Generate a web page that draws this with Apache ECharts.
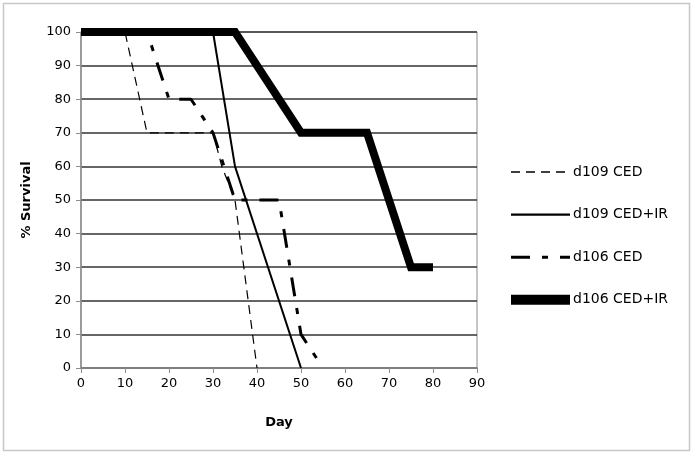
<!DOCTYPE html>
<html>
<head>
<meta charset="utf-8">
<script src="https://cdn.jsdelivr.net/npm/echarts@6/dist/echarts.min.js"></script>
<style>
html,body{margin:0;padding:0;background:#fff;}
#chart{width:694px;height:454px;}
</style>
</head>
<body>
<div id="chart"></div>
<script>
// Data
var seriesNames = ['d109 CED', 'd109 CED+IR', 'd106 CED', 'd106 CED+IR'];
var d109CED_days    = [0, 10, 15, 30, 32, 35, 40];
var d109CED_surv    = [100, 100, 70, 70, 60, 50, 0];
var d109CEDIR_days  = [0, 30, 35, 50];
var d109CEDIR_surv  = [100, 100, 60, 0];
var d106CED_days    = [0, 15, 20, 25, 30, 35, 45, 50, 55];
var d106CED_surv    = [100, 100, 80, 80, 70, 50, 50, 10, 0];
var d106CEDIR_days  = [0, 35, 50, 65, 75, 80];
var d106CEDIR_surv  = [100, 100, 70, 70, 30, 30];
var xTicks = {min: 0, max: 90, interval: 10};
var yTicks = {min: 0, max: 100, interval: 10};

function pairs(xs, ys) { return xs.map(function (x, i) { return [x, ys[i]]; }); }

var FONT = 'DejaVu Sans';
var styles = [
  {color: '#000', width: 1.2, type: [9, 6]},
  {color: '#000', width: 2, type: 'solid'},
  {color: '#000', width: 3, type: [19, 12, 6, 12]},
  {color: '#000', width: 8, type: 'solid', join: 'miter'}
];
var legendWidths = [1.4, 2.2, 3, 10];

var chart = echarts.init(document.getElementById('chart'), null, {renderer: 'canvas'});
chart.setOption({
  animation: false,
  backgroundColor: '#fff',
  textStyle: {fontFamily: FONT, color: '#000'},
  graphic: [{
    type: 'rect',
    shape: {x: 3.5, y: 3.5, width: 686, height: 447},
    style: {fill: 'none', stroke: '#c8c8c8', lineWidth: 1.5},
    silent: true, z: -10
  }],
  grid: {left: 81, top: 32, width: 396, height: 336, show: true,
         borderColor: '#8c8c8c', borderWidth: 1, backgroundColor: 'transparent'},
  legend: {
    orient: 'vertical', left: 506, top: 165, padding: 0,
    itemWidth: 59, itemHeight: 14, itemGap: 28.6,
    itemStyle: {opacity: 0},
    textStyle: {fontFamily: FONT, fontSize: 14, color: '#000', padding: [0, 0, 0, -2]},
    data: seriesNames.map(function (n, i) {
      return {name: n, lineStyle: {width: legendWidths[i], type: styles[i].type, color: '#000'}};
    })
  },
  xAxis: {
    type: 'value', min: xTicks.min, max: xTicks.max, interval: xTicks.interval,
    name: 'Day', nameLocation: 'middle', nameGap: 48,
    nameTextStyle: {fontFamily: FONT, fontSize: 13, fontWeight: 'bold', color: '#000'},
    axisLine: {show: true, lineStyle: {color: '#8c8c8c', width: 1.5}},
    axisTick: {show: true, length: 5, lineStyle: {color: '#8c8c8c'}},
    axisLabel: {fontFamily: FONT, fontSize: 13, color: '#000', margin: 9},
    splitLine: {show: false}
  },
  yAxis: {
    type: 'value', min: yTicks.min, max: yTicks.max, interval: yTicks.interval,
    name: '% Survival', nameLocation: 'middle', nameGap: 48,
    nameTextStyle: {fontFamily: FONT, fontSize: 13, fontWeight: 'bold', color: '#000'},
    axisLine: {show: true, lineStyle: {color: '#8c8c8c', width: 1.5}},
    axisTick: {show: true, length: 5, lineStyle: {color: '#8c8c8c'}},
    axisLabel: {fontFamily: FONT, fontSize: 13, color: '#000', margin: 10},
    splitLine: {show: true, lineStyle: {color: '#333', width: 1.6}}
  },
  series: [
    {name: seriesNames[0], type: 'line', symbol: 'none', z: 3,
     data: pairs(d109CED_days, d109CED_surv), lineStyle: styles[0], itemStyle: {color: '#000'}},
    {name: seriesNames[1], type: 'line', symbol: 'none', z: 4,
     data: pairs(d109CEDIR_days, d109CEDIR_surv), lineStyle: styles[1], itemStyle: {color: '#000'}},
    {name: seriesNames[2], type: 'line', symbol: 'none', z: 3,
     data: pairs(d106CED_days, d106CED_surv), lineStyle: styles[2], itemStyle: {color: '#000'}},
    {name: seriesNames[3], type: 'line', symbol: 'none', z: 5,
     data: pairs(d106CEDIR_days, d106CEDIR_surv), lineStyle: styles[3], itemStyle: {color: '#000'}}
  ]
});
</script>
</body>
</html>
